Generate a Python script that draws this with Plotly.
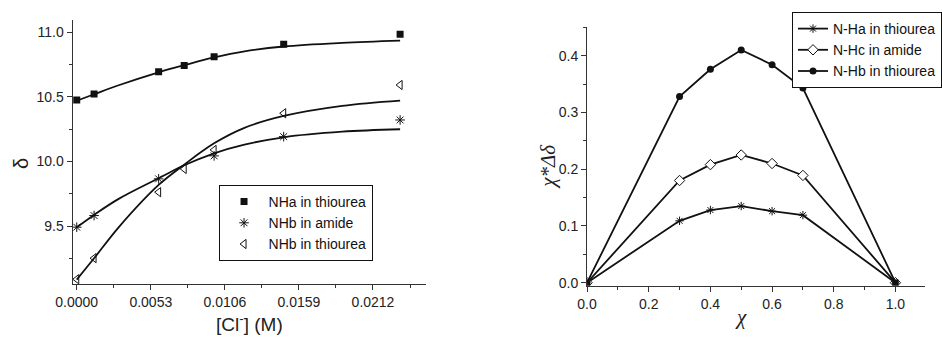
import plotly.graph_objects as go

# ---- left panel data ----
cl_conc = [0, 0.00124, 0.00586, 0.00769, 0.00983, 0.01481, 0.02314]
nha_thiourea = [10.476, 10.522, 10.695, 10.742, 10.811, 10.907, 10.985]
amide_conc = [0, 0.00124, 0.00586, 0.00983, 0.01481, 0.02314]
nhb_amide = [9.491, 9.581, 9.865, 10.043, 10.192, 10.321]
nhb_thiourea = [9.088, 9.251, 9.762, 9.942, 10.089, 10.373, 10.592]

fit_conc = [0, 0.00124, 0.003, 0.00586, 0.00769, 0.00983, 0.012, 0.01481, 0.019, 0.02314]
fit_nha = [10.47, 10.52, 10.59, 10.69, 10.745, 10.805, 10.852, 10.89, 10.918, 10.935]
fit_amide = [9.49, 9.586, 9.71, 9.87, 9.97, 10.063, 10.13, 10.187, 10.23, 10.249]
fit_thio = [9.085, 9.25, 9.49, 9.818, 9.975, 10.14, 10.26, 10.352, 10.43, 10.471]

x_ticks_left = [0, 0.0053, 0.0106, 0.0159, 0.0212]
x_ticklabels_left = ["0.0000", "0.0053", "0.0106", "0.0159", "0.0212"]
y_ticks_left = [9.5, 10.0, 10.5, 11.0]

# ---- right panel data ----
chi = [0, 0.3, 0.4, 0.5, 0.6, 0.7, 1.0]
nha_job = [0, 0.109, 0.128, 0.135, 0.126, 0.119, 0]
nhc_job = [0, 0.180, 0.208, 0.225, 0.210, 0.189, 0]
nhb_job = [0, 0.328, 0.376, 0.410, 0.384, 0.343, 0]

W, H = 942, 338
FONT = "Arial, Liberation Sans, sans-serif"
SERIF = "Times New Roman, Liberation Serif, serif"
BLK = "#111111"

def px(x):
    return x / W

def py(y):
    return 1 - y / H

fig = go.Figure()

# fit curves (left)
for fy in (fit_nha, fit_amide, fit_thio):
    fig.add_trace(go.Scatter(x=fit_conc, y=fy, mode="lines", line=dict(color=BLK, width=1.8, shape="spline"),
                             showlegend=False, xaxis="x", yaxis="y"))

fig.add_trace(go.Scatter(x=cl_conc, y=nha_thiourea, mode="markers", name="NHa in thiourea",
                         marker=dict(symbol="square", size=7, color=BLK), xaxis="x", yaxis="y", legend="legend"))
fig.add_trace(go.Scatter(x=amide_conc, y=nhb_amide, mode="markers", name="NHb in amide",
                         marker=dict(symbol="asterisk-open", size=8, color=BLK, line=dict(color=BLK, width=1)),
                         xaxis="x", yaxis="y", legend="legend"))
fig.add_trace(go.Scatter(x=cl_conc, y=nhb_thiourea, mode="markers", name="NHb in thiourea",
                         marker=dict(symbol="triangle-left-open", size=8, color=BLK, line=dict(color=BLK, width=1)),
                         xaxis="x", yaxis="y", legend="legend"))

# right panel
fig.add_trace(go.Scatter(x=chi, y=nha_job, mode="lines+markers", name="N-Ha in thiourea",
                         line=dict(color=BLK, width=1.8),
                         marker=dict(symbol="asterisk-open", size=7, color=BLK, line=dict(color=BLK, width=1)),
                         xaxis="x2", yaxis="y2", legend="legend2"))
fig.add_trace(go.Scatter(x=chi, y=nhc_job, mode="lines+markers", name="N-Hc in amide",
                         line=dict(color=BLK, width=1.8),
                         marker=dict(symbol="diamond", size=8, color="white", line=dict(color=BLK, width=1)),
                         xaxis="x2", yaxis="y2", legend="legend2"))
fig.add_trace(go.Scatter(x=chi, y=nhb_job, mode="lines+markers", name="N-Hb in thiourea",
                         line=dict(color=BLK, width=1.8),
                         marker=dict(symbol="circle", size=7, color=BLK),
                         xaxis="x2", yaxis="y2", legend="legend2"))

axis_common = dict(showline=True, linecolor="#333333", linewidth=1, ticks="outside", ticklen=5,
                   tickcolor="#333333", tickwidth=1, showgrid=False, zeroline=False,
                   tickfont=dict(family=FONT, size=14, color="#222222"), automargin=False)

fig.update_layout(
    width=W, height=H, margin=dict(l=0, r=0, t=0, b=0),
    paper_bgcolor="white", plot_bgcolor="white",
    font=dict(family=FONT, size=14, color="#222222"),
    xaxis=dict(domain=[px(72.7), px(427)], range=[-0.0003, 0.025], tickmode="array",
               tickvals=x_ticks_left, ticktext=x_ticklabels_left,
               minor=dict(tickmode="linear", tick0=0.00265, dtick=0.0053, ticklen=3, ticks="outside",
                          tickcolor="#333333"),
               anchor="y", **axis_common),
    yaxis=dict(domain=[py(284), py(20)], range=[9.051, 11.095], tickmode="array",
               tickvals=y_ticks_left, tickformat=".1f",
               minor=dict(tickmode="linear", tick0=9.25, dtick=0.5, ticklen=3, ticks="outside",
                          tickcolor="#333333"),
               anchor="x", **axis_common),
    xaxis2=dict(domain=[px(588.3), px(927.3)], range=[0, 1.097], tickmode="linear", tick0=0, dtick=0.2,
                tickformat=".1f",
                minor=dict(tickmode="linear", tick0=0.1, dtick=0.2, ticklen=3, ticks="outside",
                           tickcolor="#333333"),
                anchor="y2", **axis_common),
    yaxis2=dict(domain=[py(285.7), py(26.7)], range=[-0.0053, 0.451], tickmode="linear", tick0=0, dtick=0.1,
                tickformat=".1f",
                minor=dict(tickmode="linear", tick0=0.05, dtick=0.1, ticklen=3, ticks="outside",
                           tickcolor="#333333"),
                anchor="x2", **axis_common),
    legend=dict(x=px(219), y=py(185), xanchor="left", yanchor="top", bordercolor=BLK, borderwidth=1,
                bgcolor="white", font=dict(family=FONT, size=14, color="#111111"), itemwidth=39,
                tracegroupgap=0),
    legend2=dict(x=px(794), y=py(12), xanchor="left", yanchor="top", bordercolor=BLK, borderwidth=1,
                 bgcolor="white", font=dict(family=FONT, size=14, color="#111111"), itemwidth=30,
                 tracegroupgap=0),
    annotations=[
        dict(text="[Cl<sup>-</sup>] (M)", x=px(250), y=py(337), xref="paper", yref="paper",
             showarrow=False, font=dict(family=FONT, size=19, color="#222222"), xanchor="center", yanchor="bottom"),
        dict(text="δ", x=px(21), y=py(163), xref="paper", yref="paper", textangle=-90,
             showarrow=False, font=dict(family=FONT, size=20, color="#222222"), xanchor="center", yanchor="middle"),
        dict(text="<i>χ</i>", x=px(743), y=py(317), xref="paper", yref="paper",
             showarrow=False, font=dict(family=SERIF, size=21, color="#222222"), xanchor="center", yanchor="middle"),
        dict(text="<i>χ*Δδ</i>", x=px(549), y=py(166), xref="paper", yref="paper", textangle=-90,
             showarrow=False, font=dict(family=SERIF, size=21, color="#222222"), xanchor="center", yanchor="middle"),
    ],
)

fig.write_html("out.html")
